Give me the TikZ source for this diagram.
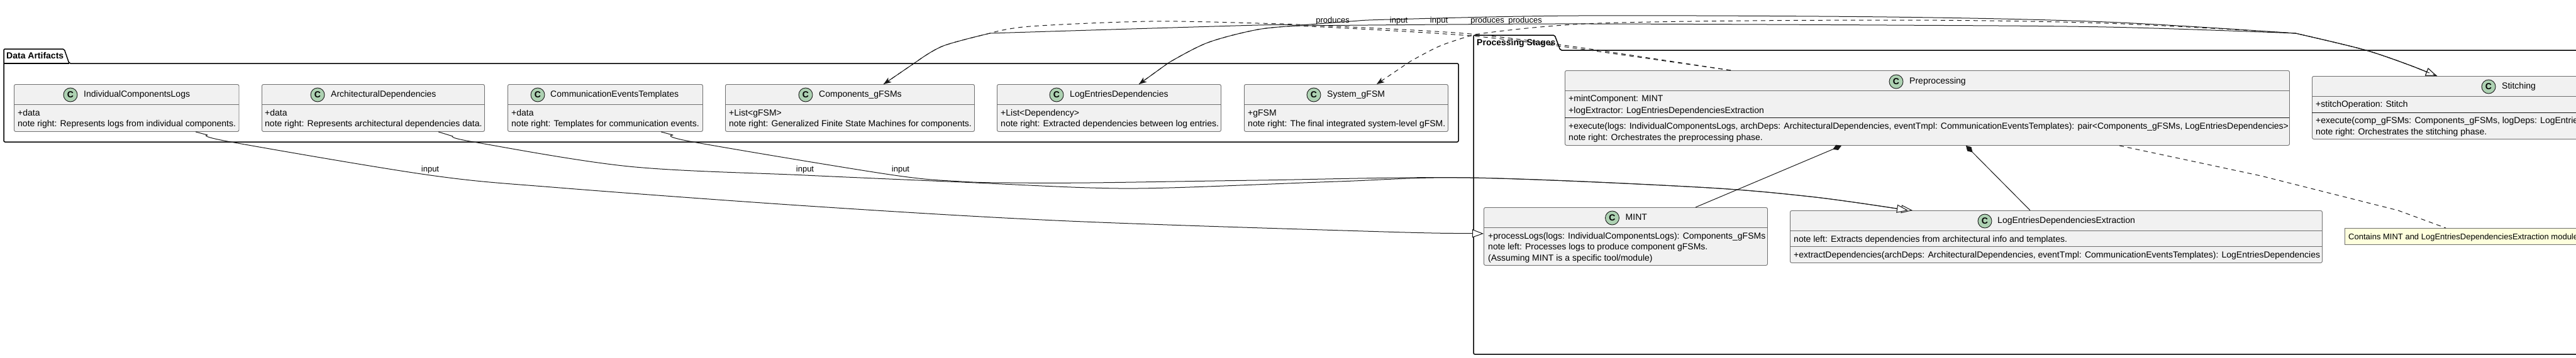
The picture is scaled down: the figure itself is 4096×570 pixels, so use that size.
\documentclass[tikz,border=0pt]{standalone}
\usepackage{fontspec}
\setmainfont{Liberation Sans}
\usetikzlibrary{arrows.meta}
\definecolor{umlfill}{HTML}{F1F1F1}
\definecolor{umlline}{HTML}{6E6E6E}
\definecolor{umlink}{HTML}{181818}
\definecolor{spotfill}{HTML}{ADD1B2}
\definecolor{notefill}{HTML}{FEFFDD}
\tikzset{
  cbox/.style={draw=umlline,fill=umlfill,line width=0.9pt,rounded corners=2.5pt,anchor=north west,inner sep=0pt},
  notebox/.style={draw=umlline,fill=notefill,line width=0.9pt,anchor=north west,inner sep=0pt},
  sepline/.style={draw=umlline,line width=0.9pt},
  pkg/.style={draw=black,line width=1.5pt,line join=round},
  spot/.style={circle,draw=umlink,fill=spotfill,line width=0.9pt,minimum size=22pt,inner sep=0pt,font=\fontsize{14}{14}\selectfont\bfseries},
  txt/.style={anchor=west,inner sep=0pt,text height=10pt,text depth=3pt,font=\fontsize{14}{17}\selectfont,text=black},
  ptitle/.style={txt,font=\fontsize{14}{17}\selectfont\bfseries},
  elabel/.style={inner sep=0pt,text height=10pt,text depth=3pt,font=\fontsize{13}{15}\selectfont,text=black},
  notetxt/.style={txt,font=\fontsize{13}{15}\selectfont},
  link/.style={draw=umlink,line width=1pt,line join=round},
  dlink/.style={link,dash pattern=on 7pt off 6pt},
  hollow/.style={-{Triangle[open,fill=white,length=18pt,width=13pt]}},
  vee/.style={-{Stealth[length=12pt,width=9pt,inset=3pt]}},
  compo/.style={{Diamond[length=15pt,width=9pt]}-},
  sm/.style={smooth,tension=0.55},
}
\newcommand\umlcls[5]{\pgfmathsetmacro\umlw{#4-#2}\pgfmathsetmacro\umlh{#5-#3}%
  \node[cbox,minimum width=\umlw pt,minimum height=\umlh pt] (#1) at (#2,#3) {};}
\newcommand\umlhead[5]{\node[spot] (#1c) at (#2,#4) {C}; \node[txt] (#1t) at (#3,#4) {#5};}
\newcommand\umlsep[3]{\draw[sepline] (#2,#1) -- (#3,#1);}
\newcommand\umlrow[4]{\node[txt] (#1) at (#2,#3) {#4};}
\begin{document}
\begin{tikzpicture}[x=1pt,y=-1pt]
\useasboundingbox (0,0) rectangle (4096,570);
\fill[white] (0,0) rectangle (4096,570);
\clip (0,0) rectangle (4096,570);
% packages
\draw[pkg,rounded corners=2pt] (6,101) -- (6,78) -- (102,78) -- (110,101) -- (2319,101) -- (2319,226) -- (6,226) -- cycle;
\draw[pkg] (6,101) -- (110,101);
\node[ptitle] (pkgdata) at (10,90) {Data Artifacts};
\draw[pkg,rounded corners=2pt] (2343,80) -- (2343,56) -- (2472,56) -- (2481,80) -- (4320,80) -- (4320,564) -- (2343,564) -- cycle;
\node[ptitle] (pkgproc) at (2348,69) {Processing Stages};
% data artifacts
\umlcls{icl}{22}{134}{379.5}{209}
\umlsep{166}{22}{379.5}
\umlhead{icl}{112}{133}{151}{IndividualComponentsLogs}
\umlrow{icla}{28}{180.5}{+data}
\umlrow{icln}{28}{197.5}{note right: Represents logs from individual components.}
\umlcls{ad}{416}{134}{770}{209}
\umlsep{166}{416}{770}
\umlhead{ad}{505}{526}{151}{ArchitecturalDependencies}
\umlrow{ada}{421}{180.5}{+data}
\umlrow{adn}{421}{197.5}{note right: Represents architectural dependencies data.}
\umlcls{cet}{807}{134}{1117}{209}
\umlsep{166}{807}{1117}
\umlhead{cet}{855}{875}{151}{CommunicationEventsTemplates}
\umlrow{ceta}{813}{180.5}{+data}
\umlrow{cetn}{813}{197.5}{note right: Templates for communication events.}
\umlcls{comp}{1153}{134}{1549}{209}
\umlsep{166}{1153}{1549}
\umlhead{comp}{1281}{1302}{151}{Components\_gFSMs}
\umlrow{compa}{1159}{180.5}{+List<gFSM>}
\umlrow{compn}{1159}{197.5}{note right: Generalized Finite State Machines for components.}
\umlcls{led}{1585}{134}{1941}{209}
\umlsep{166}{1585}{1941}
\umlhead{led}{1680}{1701}{151}{LogEntriesDependencies}
\umlrow{leda}{1591}{180.5}{+List<Dependency>}
\umlrow{ledn}{1591}{197.5}{note right: Extracted dependencies between log entries.}
\umlcls{sys}{1978}{134}{2302}{209}
\umlsep{166}{1978}{2302}
\umlhead{sys}{2089}{2110}{151}{System\_gFSM}
\umlrow{sysa}{1984}{180.5}{+gFSM}
\umlrow{sysn}{1984}{197.5}{note right: The final integrated system-level gFSM.}
% processing stages
\umlcls{pre}{2488}{112}{3640}{231}
\umlsep{144}{2488}{3640}
\draw[sepline,draw=umlink] (2488,187) -- (3640,187);
\umlhead{pre}{3015}{3036}{130}{Preprocessing}
\umlrow{prea}{2494}{158}{+mintComponent: MINT}
\umlrow{preb}{2494}{177}{+logExtractor: LogEntriesDependenciesExtraction}
\umlrow{prec}{2494}{202}{+execute(logs: IndividualComponentsLogs, archDeps: ArchitecturalDependencies, eventTmpl: CommunicationEventsTemplates): pair<Components\_gFSMs, LogEntriesDependencies>}
\umlrow{pred}{2494}{220}{note right: Orchestrates the preprocessing phase.}
\umlcls{sti}{3676}{121}{4300}{221}
\umlsep{153}{3676}{4300}
\draw[sepline,draw=umlink] (3676,179) -- (4300,179);
\umlhead{sti}{3957}{3978}{138}{Stitching}
\umlrow{stia}{3682}{167}{+stitchOperation: Stitch}
\umlrow{stib}{3682}{193}{+execute(comp\_gFSMs: Components\_gFSMs, logDeps: LogEntrie}
\umlrow{stic}{3682}{211}{note right: Orchestrates the stitching phase.}
\umlcls{mint}{2359}{330}{2810}{422}
\umlsep{362}{2359}{2810}
\umlhead{mint}{2563.5}{2584.5}{347}{MINT}
\umlrow{minta}{2366}{377}{+processLogs(logs: IndividualComponentsLogs): Components\_gFSMs}
\umlrow{mintb}{2366}{394}{note left: Processes logs to produce component gFSMs.}
\umlrow{mintc}{2366}{412}{(Assuming MINT is a specific tool/module)}
\umlcls{lede}{2846}{335}{3692}{418}
\umlsep{367}{2846}{3692}
\umlsep{392}{2846}{3692}
\umlhead{lede}{3156}{3176}{352}{LogEntriesDependenciesExtraction}
\umlrow{ledea}{2852}{382}{note left: Extracts dependencies from architectural info and templates.}
\umlrow{ledeb}{2852}{407}{+extractDependencies(archDeps: ArchitecturalDependencies, eventTmpl: CommunicationEventsTemplates): LogEntriesDependencies}
\pgfmathsetmacro\umlw{4300-3728}
\node[notebox,minimum width=\umlw pt,minimum height=26pt] (nt) at (3728,363) {};
\node[notetxt] (ntt) at (3734,377.5) {Contains MINT and LogEntriesDependenciesExtraction module};
% connectors
\draw[link,hollow] ([xshift=289pt]icl.south west) -- plot[sm] coordinates {(330,215) (367,226) (684,279) (890,299) (1300,329) (1700,352) (2200,369) (2325,371.5)} -- (mint.west |- 0,372);
\draw[link,hollow] ([xshift=281pt]ad.south west) -- plot[sm] coordinates {(720,217) (753,226) (1000,265) (1280,279) (1529,290) (1733,299) (1859,299) (2127,289) (2338,283) (2700,298) (2878,313) (3016,332)} -- ([xshift=195pt]lede.north west);
\draw[link,hollow] ([xshift=244pt]cet.south west) -- plot[sm] coordinates {(1070,215) (1102,226) (1415,278) (1529,289) (1606,291) (1733,291) (2000,287) (2338,283) (2700,298) (2878,313) (3008,331)} -- ([xshift=188pt]lede.north west);
\draw[link,hollow] ([xshift=252pt]comp.north west) -- plot[sm] coordinates {(1459,97) (1500,73) (1574,53)} -- plot[sm] coordinates {(1574,53) (2000,40) (2064,40) (2147,34) (2210,31) (2510,25) (3000,27) (3349,35) (3650,53)} -- plot[sm] coordinates {(3650,53) (3762,80) (3840,107)} -- ([xshift=199pt]sti.north west);
\draw[link,hollow] ([xshift=226pt]led.north west) -- plot[sm] coordinates {(1858,100) (1920,68) (2000,47) (2064,41)} -- plot[sm] coordinates {(2064,41) (2300,39) (2530,38) (3000,40) (3349,43) (3650,53)} -- plot[sm] coordinates {(3650,53) (3762,80) (3840,107)} -- ([xshift=199pt]sti.north west);
\draw[dlink,vee] ([xshift=264pt]pre.north west) -- plot[sm] coordinates {(2542,80) (2338,54) (2083,40) (2000,37) (1829,34) (1638,42) (1574,53)} -- plot[sm] coordinates {(1574,53) (1500,73) (1459,97)} -- ([xshift=252pt]comp.north west);
\draw[dlink,vee] ([xshift=264pt]pre.north west) -- plot[sm] coordinates {(2542,82) (2338,57) (2064,41)} -- plot[sm] coordinates {(2064,41) (2000,47) (1920,68) (1858,100)} -- ([xshift=226pt]led.north west);
\draw[dlink,vee] ([xshift=199pt]sti.north west) -- plot[sm] coordinates {(3840,107) (3762,80) (3650,53)} -- plot[sm] coordinates {(3650,53) (3349,37) (3000,32) (2542,37) (2344,55)} -- plot[sm] coordinates {(2344,55) (2290,73) (2242,98)} -- ([xshift=211pt]sys.north west);
\draw[dlink] ([xshift=882pt]pre.south west) -- plot[sm] coordinates {(3595,280) (3706,308) (3813,335)} -- ([xshift=161pt]nt.north west);
\draw[link,compo] ([xshift=440pt]pre.south west) -- ([xshift=337pt]mint.north west);
\draw[link,compo] ([xshift=638pt]pre.south west) -- ([xshift=382pt]lede.north west);
% labels
\node[elabel] (la) at (684,270) {input};
\node[elabel] (lb) at (1280,270) {input};
\node[elabel] (lc) at (1432,270) {input};
\node[elabel] (ld) at (2119,33) {produces};
\node[elabel] (le) at (2224,33) {input};
\node[elabel] (lf) at (2288,33) {input};
\node[elabel] (lg) at (2365,33) {produces};
\node[elabel] (lh) at (2425,33) {produces};
\end{tikzpicture}
\end{document}
